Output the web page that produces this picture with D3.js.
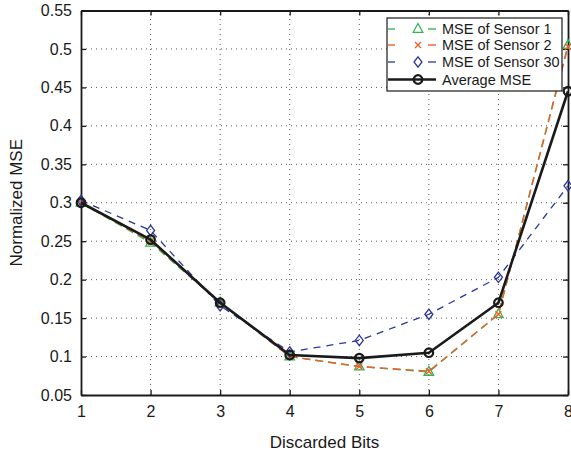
<!DOCTYPE html>
<html>
<head>
<meta charset="utf-8">
<script src="https://cdn.jsdelivr.net/npm/d3@7"></script>
<style>
  html, body { margin: 0; padding: 0; background: #fff; }
  svg { display: block; font-family: "Liberation Sans", Arial, Helvetica, sans-serif; }
</style>
</head>
<body>
<svg id="chart" width="571" height="454"></svg>
<script>
// Discarded bits on the x axis
const bits = [1, 2, 3, 4, 5, 6, 7, 8];
// Normalized MSE per sensor and the average over sensors
const mseSensor1  = [0.300, 0.248, 0.170, 0.100, 0.087, 0.080, 0.155, 0.505];
const mseSensor2  = [0.300, 0.250, 0.170, 0.100, 0.087, 0.081, 0.155, 0.503];
const mseSensor30 = [0.303, 0.264, 0.166, 0.106, 0.121, 0.155, 0.203, 0.322];
const mseAverage  = [0.300, 0.252, 0.170, 0.102, 0.098, 0.105, 0.170, 0.445];
// Axis ticks
const xTicks = [1, 2, 3, 4, 5, 6, 7, 8];
const yTicks = [0.05, 0.1, 0.15, 0.2, 0.25, 0.3, 0.35, 0.4, 0.45, 0.5, 0.55];
const seriesNames = ["MSE of Sensor 1", "MSE of Sensor 2", "MSE of Sensor 30", "Average MSE"];

const margin = { left: 81, right: 3, top: 10.5, bottom: 59 };
const W = 571, H = 454;
const svg = d3.select("#chart");

const x = d3.scaleLinear().domain([1, 8]).range([margin.left, W - margin.right]);
const y = d3.scaleLinear().domain([0.05, 0.55]).range([H - margin.bottom, margin.top]);

const series = [
  { name: seriesNames[0], values: mseSensor1,  color: "#35b550", dash: "8,5", width: 1.4, marker: "triangle" },
  { name: seriesNames[1], values: mseSensor2,  color: "#ec5f2c", dash: "8,5", width: 1.4, marker: "x" },
  { name: seriesNames[2], values: mseSensor30, color: "#2c3698", dash: "7,6", width: 1.3, marker: "diamond" },
  { name: seriesNames[3], values: mseAverage,  color: "#1a1a1a", dash: null,  width: 2.6, marker: "circle" }
];

// Dotted grid
const grid = svg.append("g").attr("class", "grid");
grid.selectAll("line.gx").data(xTicks.slice(1, -1)).join("line")
  .attr("x1", d => x(d)).attr("x2", d => x(d))
  .attr("y1", y(0.05)).attr("y2", y(0.55))
  .attr("stroke", "#555").attr("stroke-width", 1).attr("stroke-dasharray", "1,4");
grid.selectAll("line.gy").data(yTicks.slice(1, -1)).join("line")
  .attr("y1", d => y(d)).attr("y2", d => y(d))
  .attr("x1", x(1)).attr("x2", x(8))
  .attr("stroke", "#555").attr("stroke-width", 1).attr("stroke-dasharray", "1,4");

// Axes with inward ticks on all four sides
const fmtY = d => d3.format("")(+d.toFixed(2));
function styleAxis(g) {
  g.select(".domain").attr("stroke", "#1a1a1a").attr("stroke-width", 1.8);
  g.selectAll(".tick line").attr("stroke", "#1a1a1a").attr("stroke-width", 1.3);
  g.selectAll("text").attr("fill", "#1a1a1a").style("font-size", "16px");
}
svg.append("g").attr("transform", `translate(0,${y(0.05)})`)
  .call(d3.axisBottom(x).tickValues(xTicks).tickSizeInner(-5).tickSizeOuter(0).tickPadding(11).tickFormat(d3.format("d")))
  .call(styleAxis);
svg.append("g").attr("transform", `translate(0,${y(0.55)})`)
  .call(d3.axisTop(x).tickValues(xTicks).tickSizeInner(-5).tickSizeOuter(0).tickFormat(""))
  .call(styleAxis);
svg.append("g").attr("transform", `translate(${x(1)},0)`)
  .call(d3.axisLeft(y).tickValues(yTicks).tickSizeInner(-5).tickSizeOuter(0).tickPadding(9).tickFormat(fmtY))
  .call(styleAxis);
svg.append("g").attr("transform", `translate(${x(8)},0)`)
  .call(d3.axisRight(y).tickValues(yTicks).tickSizeInner(-5).tickSizeOuter(0).tickFormat(""))
  .call(styleAxis);

// Marker shapes
function drawMarker(g, type, color) {
  if (type === "triangle") {
    g.append("path").attr("d", "M0,-5.5L4.8,3.3L-4.8,3.3Z")
      .attr("fill", "none").attr("stroke", color).attr("stroke-width", 1.3);
  } else if (type === "x") {
    g.append("path").attr("d", "M-3,-3L3,3M-3,3L3,-3")
      .attr("fill", "none").attr("stroke", color).attr("stroke-width", 1.4);
  } else if (type === "diamond") {
    g.append("path").attr("d", "M0,-5.2L4,0L0,5.2L-4,0Z")
      .attr("fill", "none").attr("stroke", color).attr("stroke-width", 1.3);
  } else {
    g.append("circle").attr("r", 4.3)
      .attr("fill", "none").attr("stroke", color).attr("stroke-width", 2.2);
  }
}

// Series lines and markers
const line = d3.line().x((d, i) => x(bits[i])).y(d => y(d));
series.forEach(s => {
  svg.append("path").datum(s.values)
    .attr("d", line)
    .attr("fill", "none")
    .attr("stroke", s.color)
    .attr("stroke-width", s.width)
    .attr("stroke-dasharray", s.dash)
    .attr("stroke-linejoin", "round");
  s.values.forEach((v, i) => {
    const g = svg.append("g").attr("transform", `translate(${x(bits[i])},${y(v)})`);
    drawMarker(g, s.marker, s.color);
  });
});

// Axis labels
svg.append("text")
  .attr("x", (x(1) + x(8)) / 2).attr("y", 448)
  .attr("text-anchor", "middle").attr("fill", "#1a1a1a")
  .style("font-size", "17px").text("Discarded Bits");
svg.append("text")
  .attr("transform", `translate(22,${(y(0.05) + y(0.55)) / 2}) rotate(-90)`)
  .attr("text-anchor", "middle").attr("fill", "#1a1a1a")
  .style("font-size", "17px").text("Normalized MSE");

// Legend
const leg = svg.append("g").attr("class", "legend");
leg.append("rect").attr("x", 387).attr("y", 18).attr("width", 175).attr("height", 73)
  .attr("fill", "#fff").attr("stroke", "#1a1a1a").attr("stroke-width", 1.2);
const rowY = [29, 45, 62, 79.5];
series.forEach((s, i) => {
  const row = leg.append("g").attr("transform", `translate(0,${rowY[i]})`);
  if (s.dash) {
    row.append("line").attr("x1", 388).attr("x2", 395).attr("y1", 0).attr("y2", 0)
      .attr("stroke", s.color).attr("stroke-width", s.width);
    row.append("line").attr("x1", 428).attr("x2", 436).attr("y1", 0).attr("y2", 0)
      .attr("stroke", s.color).attr("stroke-width", s.width);
  } else {
    row.append("line").attr("x1", 388).attr("x2", 436).attr("y1", 0).attr("y2", 0)
      .attr("stroke", s.color).attr("stroke-width", s.width);
  }
  const m = row.append("g").attr("transform", "translate(418,0)");
  drawMarker(m, s.marker, s.color);
  row.append("text").attr("x", 442).attr("y", 0).attr("dy", "0.36em")
    .attr("fill", "#1a1a1a").style("font-size", "14.5px").text(s.name);
});
</script>
</body>
</html>
